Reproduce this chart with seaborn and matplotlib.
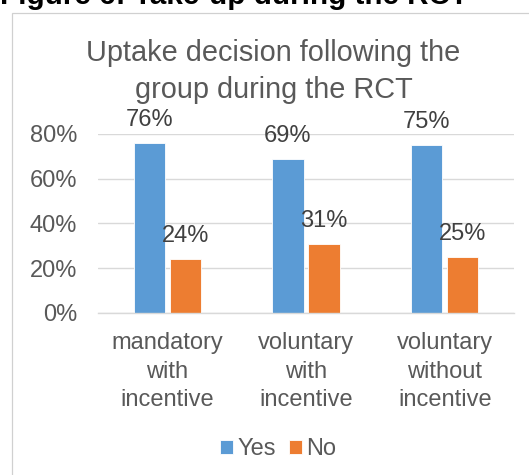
import matplotlib
matplotlib.use("Agg")
import matplotlib.pyplot as plt
from matplotlib.patches import Rectangle
import seaborn as sns
import pandas as pd

# Uptake decision shares per RCT group
categories = ["mandatory\nwith\nincentive", "voluntary\nwith\nincentive", "voluntary\nwithout\nincentive"]
yes_share = [0.76, 0.69, 0.75]
no_share = [0.24, 0.31, 0.25]
series_names = ["Yes", "No"]
y_ticks = [0.0, 0.2, 0.4, 0.6, 0.8]
y_tick_labels = ["0%", "20%", "40%", "60%", "80%"]

df = pd.DataFrame({
    "group": categories * 2,
    "share": yes_share + no_share,
    "answer": [series_names[0]] * 3 + [series_names[1]] * 3,
})

sns.set_theme(style="white")
plt.rcParams["font.family"] = ["Liberation Sans", "DejaVu Sans"]

GREY = "#595959"
GRID = "#D9D9D9"
FS = 17
palette = {"Yes": "#5B9BD5", "No": "#ED7D31"}

fig = plt.figure(figsize=(5.29, 4.75), dpi=100)
ax = fig.add_axes([0.1853, 0.3411, 0.7864, 0.3768])

sns.barplot(data=df, x="group", y="share", hue="answer", order=categories,
            hue_order=series_names, palette=palette, width=0.52, gap=0.13,
            edgecolor="white", linewidth=0.6, saturation=1, ax=ax)

ax.set_ylim(0, 0.8)
ax.set_yticks(y_ticks)
ax.set_yticklabels(y_tick_labels)
ax.set_xlim(-0.5, 2.5)
ax.set_xlabel("")
ax.set_ylabel("")
ax.yaxis.grid(True, color=GRID, linewidth=1.0)
ax.set_axisbelow(True)
for side in ["top", "right", "left"]:
    ax.spines[side].set_visible(False)
ax.spines["bottom"].set_color(GRID)
ax.spines["bottom"].set_linewidth(1.0)
ax.tick_params(axis="y", length=0, pad=15, labelsize=FS, labelcolor=GREY)
ax.tick_params(axis="x", length=0, pad=14, labelsize=FS, labelcolor=GREY)
for lbl in ax.get_xticklabels():
    lbl.set_linespacing(1.38)

# value labels above each bar
for cont, vals in zip(ax.containers, [yes_share, no_share]):
    ax.bar_label(cont, labels=[f"{round(v * 100)}%" for v in vals], padding=8.5,
                 fontsize=FS, color="#404040", clip_on=False)

# legend below the category labels
handles, labels = ax.get_legend_handles_labels()
if ax.legend_:
    ax.legend_.remove()
leg = fig.legend(handles, labels, loc="center", bbox_to_anchor=(0.5255, 0.0545),
                 ncol=2, frameon=False, fontsize=FS, handlelength=0.55,
                 handleheight=0.55, handletextpad=0.2, columnspacing=0.55,
                 borderpad=0)
for t in leg.get_texts():
    t.set_color(GREY)

# chart title
fig.text(0.517, 0.8495, "Uptake decision following the\ngroup during the RCT",
         ha="center", va="center", fontsize=20.8, color=GREY, linespacing=1.42)

# chart area border
fig.patches.append(Rectangle((12 / 529, -0.2), 1.0, 1.2 - 13 / 475,
                             transform=fig.transFigure, fill=False,
                             edgecolor="#D0D0D0", linewidth=0.9))

# document heading above the chart
fig.text(0.0, 1 - 3.5 / 475, "Figure 6: Take-up during the RCT", ha="left",
         va="baseline", fontsize=21.3, fontweight="bold", color="black")

fig.savefig("out.png", dpi=100)
